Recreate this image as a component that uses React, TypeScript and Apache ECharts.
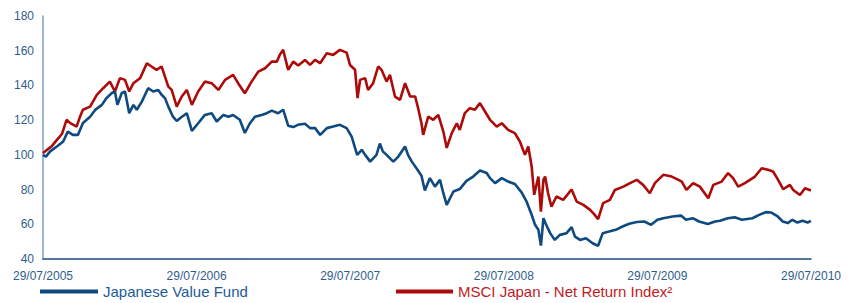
import React, { useEffect, useRef } from "react";
import * as echarts from "echarts";

// Days since 29/07/2005 and indexed values (29/07/2005 = 100)
const fundDays = [0, 7, 17, 33, 48, 59, 71, 83, 95, 112, 124, 140, 151, 163, 171, 177, 187, 195, 205, 215, 223, 235, 250, 262, 274, 282, 290, 298, 309, 318, 328, 342, 354, 369, 385, 401, 413, 429, 441, 452, 468, 480, 492, 504, 520, 532, 544, 559, 571, 583, 595, 606, 623, 635, 647, 659, 675, 690, 706, 722, 734, 742, 747, 758, 766, 778, 793, 801, 808, 817, 833, 845, 861, 868, 877, 888, 900, 908, 920, 932, 944, 952, 960, 976, 991, 1007, 1023, 1039, 1055, 1063, 1075, 1091, 1106, 1122, 1138, 1150, 1162, 1170, 1178, 1184, 1190, 1196, 1206, 1217, 1229, 1245, 1257, 1265, 1277, 1291, 1307, 1320, 1331, 1346, 1362, 1378, 1394, 1412, 1430, 1446, 1461, 1475, 1497, 1517, 1529, 1545, 1560, 1581, 1598, 1610, 1628, 1645, 1662, 1687, 1703, 1719, 1731, 1747, 1759, 1771, 1782, 1794, 1806, 1818, 1826];
const fundValues = [100, 99, 102, 104.8, 107.7, 113.4, 111.5, 111.5, 118.4, 122, 125.9, 128.8, 132.7, 135.5, 136.5, 128.8, 135.5, 136.5, 124, 128.8, 126, 130.7, 138.4, 136.5, 137.4, 134.6, 132.7, 127.8, 122, 119.5, 121.5, 124, 113.8, 118.2, 123, 124, 119.2, 123, 122, 123, 120.2, 112.6, 118.2, 122, 123, 124, 125.5, 124, 126, 116.8, 116, 117.3, 117.9, 115.4, 115.4, 111.5, 115.4, 116.3, 117.3, 115.4, 110.5, 104, 100, 102.9, 100, 96.1, 100, 106.5, 102, 100, 96.1, 99, 104.8, 100, 96.1, 92.3, 88, 79.5, 86.6, 81.7, 85.6, 77.9, 71.2, 78.9, 80.3, 85, 87.5, 91, 89.5, 86.6, 83.7, 86.6, 84.6, 83.2, 78.4, 73, 65.5, 59.7, 56.8, 47.7, 63.5, 60, 54.9, 51, 53.9, 54.9, 58.4, 52.9, 51, 52, 49.1, 47.6, 54.9, 55.8, 56.8, 58.7, 60.3, 61.3, 61.6, 59.7, 62.6, 63.5, 64.5, 65, 62.6, 63.5, 61.6, 60.2, 61.6, 62, 63.5, 64, 62.6, 63.5, 65.4, 67, 66.8, 64.5, 61.6, 60.7, 62.6, 61, 62, 61, 62];

const indexDays = [0, 10, 21, 33, 45, 56, 64, 80, 88, 95, 112, 128, 143, 159, 171, 183, 195, 205, 215, 231, 247, 258, 270, 282, 290, 298, 306, 318, 330, 342, 354, 369, 385, 401, 417, 433, 452, 464, 480, 496, 512, 528, 544, 556, 563, 571, 583, 595, 607, 623, 635, 647, 659, 675, 690, 706, 722, 730, 742, 748, 754, 766, 773, 785, 797, 805, 817, 825, 837, 849, 861, 873, 885, 892, 900, 904, 916, 928, 940, 952, 960, 972, 984, 991, 1003, 1015, 1027, 1039, 1051, 1063, 1079, 1091, 1106, 1122, 1134, 1146, 1154, 1162, 1168, 1178, 1184, 1190, 1194, 1201, 1209, 1221, 1237, 1253, 1257, 1269, 1285, 1301, 1310, 1320, 1332, 1348, 1360, 1380, 1396, 1412, 1427, 1443, 1455, 1475, 1495, 1511, 1519, 1530, 1546, 1562, 1582, 1594, 1614, 1629, 1641, 1653, 1669, 1693, 1709, 1724, 1736, 1748, 1760, 1776, 1784, 1800, 1812, 1826];
const indexValues = [101, 103, 105, 108.6, 112, 120.2, 118.4, 116.3, 122, 126, 127.8, 134.6, 138.4, 142.2, 136.5, 144.2, 143.2, 136.5, 141.3, 144.2, 152.8, 150.9, 149, 150.9, 145.1, 139.3, 137.4, 127.8, 133.6, 137.4, 128.8, 136.5, 142.2, 141.3, 137.4, 143.2, 146.1, 141.3, 135.5, 142.2, 148, 149.9, 153.7, 153.7, 157.6, 160.5, 149, 153.7, 151.5, 154.7, 151.8, 154.7, 152.8, 158.6, 157.6, 160.5, 158.9, 151.8, 149, 132.7, 143.2, 144.2, 137.4, 141.3, 150.9, 149, 142.2, 146.1, 133.6, 131.7, 141.3, 133.6, 133.6, 126.9, 118.2, 111.5, 122, 120.2, 123, 113.4, 104, 112.5, 118.2, 114.4, 124, 126.9, 126, 129.8, 125, 120.2, 116.3, 118.2, 114.4, 112.5, 107.7, 100, 104.8, 93.3, 77, 87.5, 67.3, 85.6, 87.5, 77.9, 70.2, 76, 74.1, 78.9, 80, 73.1, 71.2, 68.3, 66, 63, 72.2, 74.1, 79.8, 81.7, 83.7, 85.6, 82.7, 77.9, 83.7, 88.5, 87.5, 85.6, 84.6, 79.8, 83.7, 81.7, 75, 82.7, 84.6, 89.5, 86.6, 81.7, 83.7, 87.5, 92.3, 91.4, 90.4, 85.6, 80.2, 82.7, 79.8, 76.9, 80.8, 79.5];

const seriesNames = ["Japanese Value Fund", "MSCI Japan - Net Return Index²"];
const startYear = 2005;
const yearDays = 365.25;

const FONT = "'Liberation Sans', Arial, Helvetica, sans-serif";
const LABEL = "#2f5d8c";

export default function App() {
  const ref = useRef<HTMLDivElement>(null);
  useEffect(() => {
    document.body.style.margin = "0";
    const chart = echarts.init(ref.current!, undefined, { renderer: "svg" });
    const fund = fundDays.map((d, i) => [d, fundValues[i]]);
    const index = indexDays.map((d, i) => [d, indexValues[i]]);
    chart.setOption({
      animation: false,
      backgroundColor: "#ffffff",
      textStyle: { fontFamily: FONT },
      grid: { left: 43, right: 45, top: 16, bottom: 44, containLabel: false },
      legend: [
        {
          left: 40,
          top: 284,
          padding: 0,
          itemWidth: 58,
          itemHeight: 4,
          icon: "rect",
          data: [{ name: seriesNames[0], itemStyle: { color: "#0e4a80" } }],
          textStyle: { color: "#1d5b97", fontSize: 15, fontFamily: FONT },
          selectedMode: false,
        },
        {
          left: 396,
          top: 284,
          padding: 0,
          itemWidth: 57,
          itemHeight: 4,
          icon: "rect",
          data: [{ name: seriesNames[1], itemStyle: { color: "#ad0a0a" } }],
          textStyle: { color: "#c01a1e", fontSize: 15, fontFamily: FONT },
          selectedMode: false,
        },
      ],
      xAxis: {
        type: "value",
        min: 0,
        max: 5 * yearDays,
        interval: yearDays,
        axisLine: { show: true, onZero: false, lineStyle: { color: "#1d4c7c", width: 1.5 } },
        axisTick: { show: false },
        splitLine: { show: false },
        axisLabel: {
          color: LABEL,
          fontSize: 12,
          fontFamily: FONT,
          margin: 11,
          showMinLabel: true,
          showMaxLabel: true,
          formatter: (v: number) => `29/07/${startYear + Math.round(v / yearDays)}`,
        },
      },
      yAxis: {
        type: "value",
        min: 40,
        max: 180,
        interval: 20,
        axisLine: { show: true, lineStyle: { color: "#7f9fc5", width: 1.5 } },
        axisTick: { show: false },
        splitLine: { show: false },
        axisLabel: { color: LABEL, fontSize: 12, fontFamily: FONT, margin: 9 },
      },
      series: [
        {
          name: seriesNames[1],
          type: "line",
          data: index,
          showSymbol: false,
          lineStyle: { color: "#ad0a0a", width: 2.6 },
          itemStyle: { color: "#ad0a0a" },
        },
        {
          name: seriesNames[0],
          type: "line",
          data: fund,
          showSymbol: false,
          lineStyle: { color: "#0e4a80", width: 2.6 },
          itemStyle: { color: "#0e4a80" },
        },
      ],
    });
    return () => chart.dispose();
  }, []);
  return <div ref={ref} style={{ width: 856, height: 303 }} />;
}
